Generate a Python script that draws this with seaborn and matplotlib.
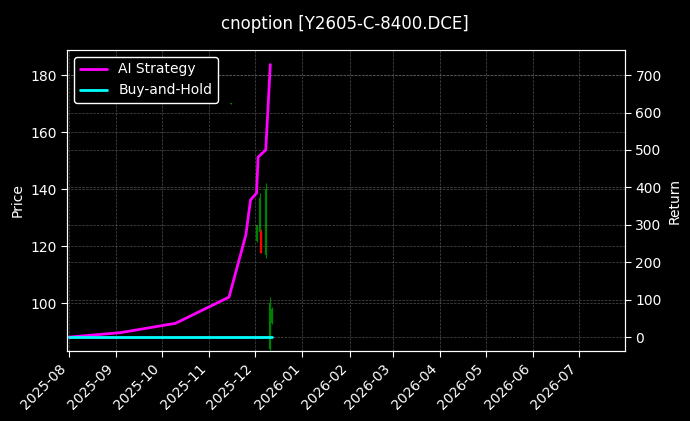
import matplotlib
matplotlib.use("Agg")
import matplotlib.pyplot as plt
import matplotlib.dates as mdates
import seaborn as sns
import pandas as pd
import numpy as np

sns.set_style("dark")
plt.rcParams['font.family'] = ['DejaVu Sans']

candle_dates = ["2025-11-15", "2025-12-02", "2025-12-04", "2025-12-05", "2025-12-08", "2025-12-11", "2025-12-12"]
c_open = [170.0, 121.7, 125.0, 125.0, 117.0, 84.0, 93.0]
c_close = [170.2, 127.3, 137.0, 117.7, 140.0, 100.0, 98.0]
c_high = [170.3, 127.5, 138.6, 126.0, 142.0, 102.0, 98.5]
c_low = [169.9, 121.5, 124.6, 117.5, 116.0, 83.0, 92.5]

ai_dates = ["2025-08-01", "2025-09-04", "2025-10-10", "2025-11-14", "2025-11-25", "2025-11-28",
            "2025-12-02", "2025-12-03", "2025-12-08", "2025-12-11"]
ai_ret = [0, 12, 37, 107, 273, 366, 385, 481, 500, 728]
bh_dates = ["2025-08-01", "2025-12-12"]
bh_ret = [0, 0]

fig = plt.figure(figsize=(6.9, 4.21), dpi=100, facecolor="black")
ax = fig.add_axes([67/690, 1-351/421, (625-67)/690, (351-50)/421])
ax2 = ax.twinx()
for a in (ax, ax2):
    a.set_facecolor("black")
ax.set_zorder(1); ax2.set_zorder(2); ax2.patch.set_alpha(0)

cd = pd.to_datetime(candle_dates)
for d, o, h, l, c in zip(cd, c_open, c_high, c_low, c_close):
    col = "green" if c >= o else "red"
    ax.vlines(d, l, h, color=col, linewidth=0.8)
    ax.vlines(d, min(o, c), max(o, c), color=col, linewidth=1.6)

ai = pd.DataFrame({"date": pd.to_datetime(ai_dates), "ret": ai_ret})
bh = pd.DataFrame({"date": pd.to_datetime(bh_dates), "ret": bh_ret})
sns.lineplot(data=ai, x="date", y="ret", ax=ax2, color="#ff00ff", linewidth=2, label="AI Strategy")
sns.lineplot(data=bh, x="date", y="ret", ax=ax2, color="cyan", linewidth=2, label="Buy-and-Hold")

ax.set_xlim(pd.Timestamp("2025-07-31"), pd.Timestamp("2026-07-31"))
ax.set_ylim(83.2, 188.8)
ax2.set_ylim(-37, 767)
ax.xaxis.set_major_locator(mdates.MonthLocator())
ax.xaxis.set_major_formatter(mdates.DateFormatter("%Y-%m"))
for lab in ax.get_xticklabels():
    lab.set_rotation(45); lab.set_ha("right")
ax.grid(True, color="gray", linestyle="--", linewidth=0.5, alpha=0.6)
ax2.grid(True, color="gray", linestyle="--", linewidth=0.5, alpha=0.6)
ax.set_ylabel("Price", color="white")
ax2.set_ylabel("Return", color="white")
ax.set_xlabel(""); ax2.set_xlabel("")
for a in (ax, ax2):
    a.tick_params(colors="white", which="both", left=True, bottom=True, right=True, length=4)
    for s in a.spines.values():
        s.set_color("white")
ax.tick_params(axis="y", right=False)
ax2.tick_params(axis="y", left=False)
leg = ax2.legend(loc="upper left", facecolor="black", edgecolor="white", labelcolor="white", framealpha=1)
fig.suptitle("cnoption [Y2605-C-8400.DCE]", color="white", fontsize=12, y=0.965)
fig.savefig("out.png", dpi=100, facecolor="black")
